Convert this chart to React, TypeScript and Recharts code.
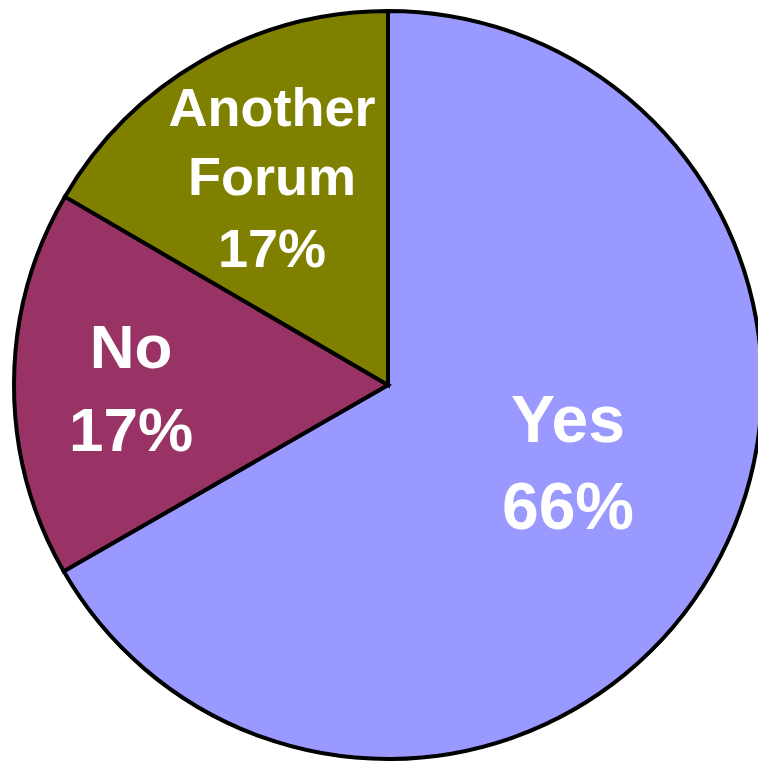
import React from "react";
import { PieChart, Pie, Cell } from "recharts";

const categories = ["Yes", "No", "Another Forum"];
const shares = [66.7, 16.7, 16.6];
const percentLabels = ["66%", "17%", "17%"];
const colors = ["#9999FF", "#993366", "#808000"];

const data = categories.map((name, i) => ({ name, value: shares[i] }));

const CX = 388;
const CY = 385;

// label layout: line texts, offsets from pie centre, font size
const labelLayout = [
  { lines: ["Yes", percentLabels[0]], dx: 568 - CX, dys: [442 - CY, 529 - CY], size: 66 },
  { lines: ["No", percentLabels[1]], dx: 131 - CX, dys: [368 - CY, 451 - CY], size: 62 },
  { lines: ["Another", "Forum", percentLabels[2]], dx: 272 - CX, dys: [126 - CY, 195 - CY, 267 - CY], size: 54 },
];

const renderLabel = (props: any) => {
  const { cx, cy, index } = props;
  const l = labelLayout[index];
  return (
    <text
      key={"lbl" + index}
      textAnchor="middle"
      fill="#FFFFFF"
      fontFamily="'Liberation Sans', Arial, sans-serif"
      fontWeight="bold"
      fontSize={l.size}
    >
      {l.lines.map((t, j) => (
        <tspan key={j} x={cx + l.dx} y={cy + l.dys[j]}>
          {t}
        </tspan>
      ))}
    </text>
  );
};

export default function App() {
  return (
    <div style={{ position: "absolute", left: 0, top: 0, width: 758, height: 762, background: "#fff" }}>
      <PieChart width={758} height={762} margin={{ top: 0, right: 0, bottom: 0, left: 0 }}>
        <Pie
          data={data}
          dataKey="value"
          nameKey="name"
          cx={CX}
          cy={CY}
          outerRadius={374}
          startAngle={90}
          endAngle={-270}
          stroke="#000000"
          strokeWidth={4}
          label={renderLabel}
          labelLine={false}
          isAnimationActive={false}
        >
          {data.map((d, i) => (
            <Cell key={d.name} fill={colors[i]} stroke="#000000" strokeWidth={4} />
          ))}
        </Pie>
      </PieChart>
    </div>
  );
}
